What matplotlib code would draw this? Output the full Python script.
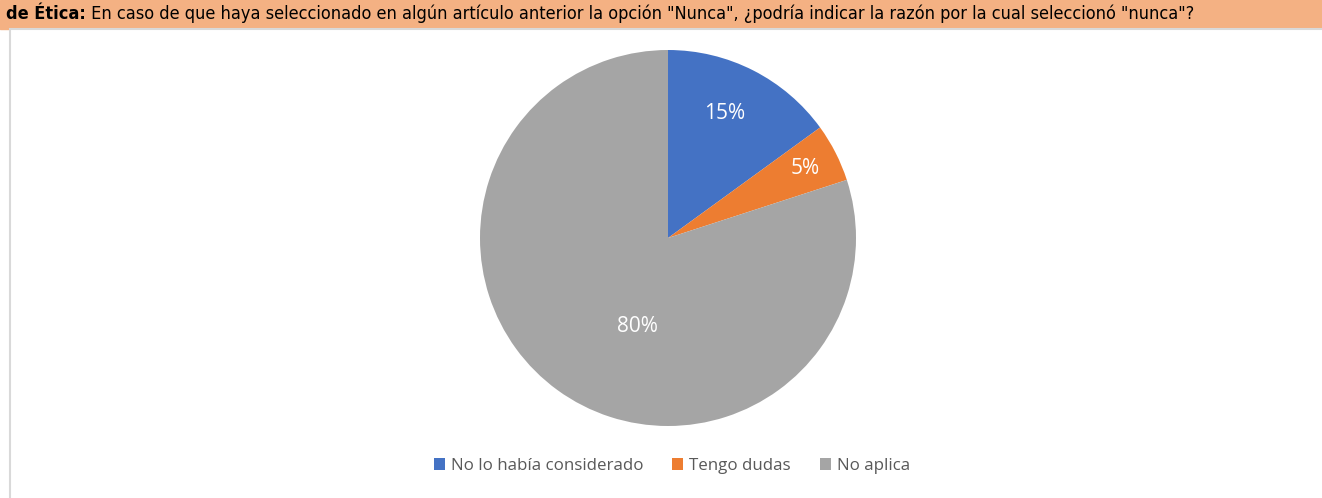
import matplotlib.pyplot as plt
from matplotlib.patches import Rectangle

# data
labels = ["No lo había considerado", "Tengo dudas", "No aplica"]
values = [15, 5, 80]
colors = ["#4472C4", "#ED7D31", "#A5A5A5"]
# where Excel put the percentage labels (in pie data units, radius = 1)
label_pos = [(0.30, 0.66), (0.73, 0.37), (-0.16, -0.47)]

title_bold = "de Ética:"
title_rest = " En caso de que haya seleccionado en algún artículo anterior la opción \"Nunca\", ¿podría indicar la razón por la cual seleccionó \"nunca\"?"

fig = plt.figure(figsize=(13.22, 4.98), dpi=100)
W, H = 1322, 498

# header band and chart frame
fig.patches.append(Rectangle((0, 1 - 29 / H), 1, 29 / H, transform=fig.transFigure,
                             color="#F4B183", zorder=0))
fig.patches.append(Rectangle((10 / W, -0.01), 1.0, 1 - 29 / H + 0.01, transform=fig.transFigure,
                             facecolor="white", edgecolor="#D9D9D9", linewidth=1.5, zorder=1))

t = fig.text(6 / W, 1 - 14 / H, title_bold, fontsize=13, fontweight="bold",
             fontstretch="condensed", va="center", ha="left", zorder=3)
fig.canvas.draw()
bb = t.get_window_extent()
t2 = fig.text(bb.x1 / W, 1 - 14 / H, title_rest, fontsize=13, fontstretch="condensed",
              va="center", ha="left", zorder=3)

ax = fig.add_axes([480 / W, 1 - 426 / H, 376 / W, 376 / H])
ax.set_zorder(2)
wedges, texts = ax.pie(values, colors=colors, startangle=90, counterclock=False,
                       radius=1, wedgeprops=dict(linewidth=0))
for w, v, pos in zip(wedges, values, label_pos):
    ax.text(pos[0], pos[1], f"{v}%", color="white", fontsize=15, family="Open Sans",
            ha="center", va="center")
ax.set_xlim(-1, 1)
ax.set_ylim(-1, 1)
ax.set_aspect("equal")
ax.axis("off")

leg = fig.legend(wedges, labels, loc="center", bbox_to_anchor=(672 / W, 1 - 466 / H),
                 ncol=3, frameon=False, handlelength=0.65, handleheight=0.65,
                 handletextpad=0.35, columnspacing=1.7,
                 prop={"family": "Open Sans", "size": 12.2})
leg.set_zorder(3)
for txt in leg.get_texts():
    txt.set_color("#595959")

fig.savefig("out.png", dpi=100)
